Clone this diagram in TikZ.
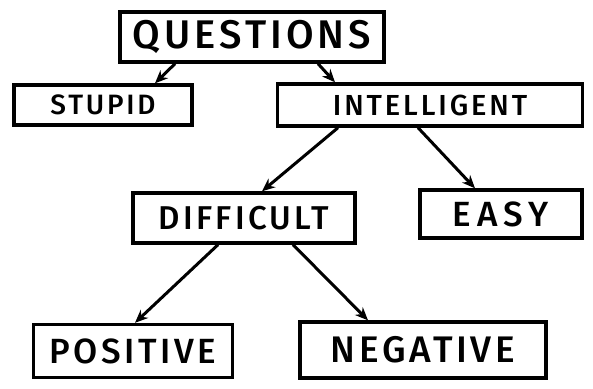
\documentclass[tikz,border=0pt]{standalone}
\usepackage{fontspec}
\usepackage{tikz}
\usetikzlibrary{arrows.meta}
\newfontfamily\handfont{Fira Sans}[LetterSpace=10,UprightFont=* Medium]
\tikzstyle{box} = [draw,line width=3.4pt,inner sep=0pt,font=\handfont]
\tikzstyle{arrow} = [line width=3pt,-{Stealth[length=13pt,width=11pt]}]

\begin{document}
\begin{tikzpicture}[x=1pt,y=-1pt]
  \useasboundingbox (0,0) rectangle (593,388);
  \node[box,minimum width=264pt,minimum height=50pt] (Q) at (252,37) {\fontsize{40}{40}\selectfont QUESTIONS};
  \node[box,minimum width=178pt,minimum height=40pt] (St) at (103,105) {\fontsize{28}{28}\selectfont STUPID};
  \node[box,minimum width=305pt,minimum height=42pt] (In) at (430,105) {\fontsize{29}{29}\selectfont INTELLIGENT};
  \node[box,minimum width=222pt,minimum height=50pt] (Di) at (244,218) {\fontsize{33}{33}\selectfont DIFFICULT};
  \node[box,minimum width=162pt,minimum height=48pt] (Ea) at (501,214) {\fontsize{35}{35}\selectfont E\,A\,S\,Y};
  \node[box,minimum width=199pt,minimum height=53pt] (Po) at (133,351) {\fontsize{35}{35}\selectfont POSITIVE};
  \node[box,minimum width=246pt,minimum height=56pt] (Ne) at (423,350) {\fontsize{37}{37}\selectfont NEGATIVE};

  \draw[arrow] ([xshift=-77pt]Q.south) -- ([xshift=52pt]St.north);
  \draw[arrow] ([xshift=66pt]Q.south) -- ([xshift=-95pt]In.north);
  \draw[arrow] ([xshift=-92pt]In.south) -- ([xshift=18pt]Di.north);
  \draw[arrow] ([xshift=-12pt]In.south) -- ([xshift=-26pt]Ea.north);
  \draw[arrow] ([xshift=-26pt]Di.south) -- ([xshift=2pt]Po.north);
  \draw[arrow] ([xshift=49pt]Di.south) -- ([xshift=-55pt]Ne.north);
\end{tikzpicture}
\end{document}
